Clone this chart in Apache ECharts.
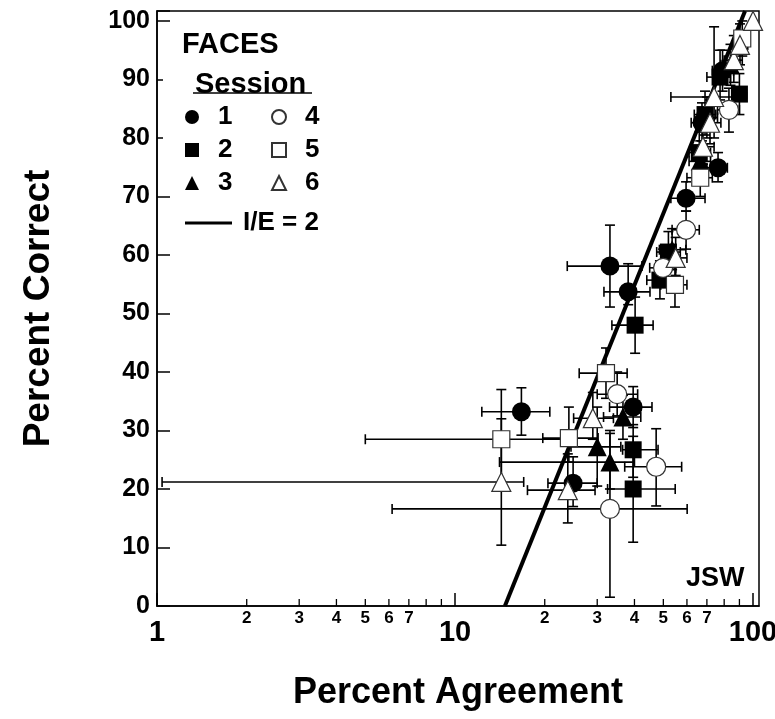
<!DOCTYPE html>
<html><head><meta charset="utf-8">
<script src="https://cdn.jsdelivr.net/npm/echarts@6/dist/echarts.min.js"></script>
<style>html,body{margin:0;padding:0;background:#fff}#c{width:775px;height:719px}</style>
</head><body><div id="c"></div>
<script>
// Each point: [x, y, xLow, xHigh, yLow, yHigh]
const session1 = [
  [16.7, 33.2, 12.3, 20.8, 29.2, 37.3],
  [33.1, 58.1, 23.8, 42.4, 51.1, 65.1],
  [38.1, 53.7, 31.6, 45.1, 51.5, 58.5],
  [39.6, 34.0, 33.0, 45.8, 30.5, 37.5],
  [24.9, 21.0, 20.5, 30.0, 17.0, 25.5],
  [59.6, 69.7, 53.0, 69.0, 67.5, 72.5],
  [76.3, 74.9, 70.0, 82.0, 72.5, 77.5],
  [67.4, 82.6, 62.0, 74.0, 79.5, 86.0],
  [79.0, 91.5, 73.0, 86.0, 88.0, 95.0]
];
const session2 = [
  [40.2, 48.0, 33.6, 46.2, 43.2, 52.8],
  [39.6, 26.7, 36.5, 48.0, 22.0, 31.0],
  [39.6, 20.0, 32.5, 54.8, 10.9, 29.0],
  [48.7, 55.7, 44.0, 54.0, 52.5, 59.0],
  [52.0, 60.5, 47.5, 57.0, 57.5, 64.0],
  [66.0, 77.5, 61.0, 72.0, 74.5, 81.0],
  [69.0, 84.0, 63.5, 75.0, 80.5, 88.0],
  [77.5, 90.4, 70.0, 84.0, 86.5, 95.0],
  [90.0, 87.5, 85.0, 95.0, 84.0, 91.0]
];
const session3 = [
  [30.0, 27.2, 24.5, 36.0, 20.5, 34.0],
  [33.1, 24.6, 14.1, 40.0, 20.0, 29.5],
  [36.6, 32.3, 31.5, 42.0, 28.5, 36.0],
  [53.5, 60.9, 48.5, 59.5, 57.5, 64.5],
  [66.5, 76.0, 61.0, 72.0, 73.0, 79.5],
  [70.0, 83.5, 65.0, 76.0, 80.0, 87.0],
  [84.0, 92.5, 78.0, 90.0, 89.0, 96.0]
];
const session4 = [
  [35.0, 36.2, 30.0, 41.0, 32.5, 40.0],
  [47.3, 23.8, 37.1, 57.6, 17.1, 30.3],
  [33.1, 16.6, 6.15, 60.1, 1.5, 30.0],
  [49.9, 57.8, 45.0, 55.0, 54.5, 61.0],
  [59.6, 64.3, 53.5, 66.0, 61.0, 67.5],
  [83.0, 84.8, 76.0, 90.0, 81.0, 88.5]
];
const session5 = [
  [14.3, 28.5, 5.0, 24.0, 20.0, 37.0],
  [24.1, 28.7, 19.7, 30.2, 24.6, 34.0],
  [32.1, 39.8, 26.1, 37.8, 35.5, 44.1],
  [54.7, 54.9, 49.0, 60.0, 51.1, 58.5],
  [66.5, 73.2, 60.0, 73.0, 70.0, 76.5],
  [92.0, 97.0, 87.0, 97.0, 94.0, 100.0]
];
const session6 = [
  [14.3, 21.2, 1.04, 17.0, 10.4, 32.0],
  [23.9, 19.8, 17.5, 29.5, 14.2, 26.0],
  [29.0, 32.1, 25.0, 34.0, 28.5, 36.5],
  [55.0, 59.5, 50.0, 60.0, 56.5, 63.0],
  [67.9, 78.5, 62.5, 74.0, 75.5, 82.0],
  [71.7, 82.6, 66.0, 78.0, 79.0, 86.5],
  [74.0, 87.0, 53.0, 95.0, 80.0, 99.0],
  [86.2, 93.3, 80.0, 92.0, 89.5, 97.5],
  [90.4, 95.9, 85.0, 96.0, 92.5, 99.5],
  [100.0, 100.0, 100.0, 100.0, 100.0, 100.0]
];
const lineIE = [[14.7, 0], [94.0, 101.7]];
const sessionNames = ['1', '2', '3', '4', '5', '6'];
const lineName = 'I/E = 2';
const xMinorTicks = [2, 3, 4, 5, 6, 7, 8, 9, 20, 30, 40, 50, 60, 70, 80, 90];
const xMinorLabels = [2, 3, 4, 5, 6, 7, 20, 30, 40, 50, 60, 70];
const xMinorLabelText = ['2', '3', '4', '5', '6', '7', '2', '3', '4', '5', '6', '7'];
const xMajorTicks = [1, 10, 100];

const FONT = 'Liberation Sans';
const sessions = [session1, session2, session3, session4, session5, session6];
const symbols = ['circle', 'rect', 'triangle', 'circle', 'rect', 'triangle'];
const sizes = [19, 17, 19, 19, 17, 19];

const chart = echarts.init(document.getElementById('c'), null, {renderer: 'canvas'});

function renderErr(params, api) {
  const x = api.value(0), y = api.value(1);
  const xl = api.value(2), xh = api.value(3), yl = api.value(4), yh = api.value(5);
  const pL = api.coord([xl, y]), pR = api.coord([xh, y]);
  const pB = api.coord([x, yl]), pT = api.coord([x, yh]);
  const c = 5;
  const st = {stroke: '#000', lineWidth: 1.6};
  const ch = [];
  if (xh > xl) {
    ch.push({type: 'line', shape: {x1: pL[0], y1: pL[1], x2: pR[0], y2: pR[1]}, style: st});
    ch.push({type: 'line', shape: {x1: pL[0], y1: pL[1] - c, x2: pL[0], y2: pL[1] + c}, style: st});
    ch.push({type: 'line', shape: {x1: pR[0], y1: pR[1] - c, x2: pR[0], y2: pR[1] + c}, style: st});
  }
  if (yh > yl) {
    ch.push({type: 'line', shape: {x1: pB[0], y1: pB[1], x2: pT[0], y2: pT[1]}, style: st});
    ch.push({type: 'line', shape: {x1: pB[0] - c, y1: pB[1], x2: pB[0] + c, y2: pB[1]}, style: st});
    ch.push({type: 'line', shape: {x1: pT[0] - c, y1: pT[1], x2: pT[0] + c, y2: pT[1]}, style: st});
  }
  return {type: 'group', children: ch};
}

function renderMinor(params, api) {
  const v = api.value(0);
  const p = api.coord([v, 0]);
  const ch = [{type: 'line', shape: {x1: p[0], y1: p[1], x2: p[0], y2: p[1] - 7}, style: {stroke: '#000', lineWidth: 1.3}}];
  const idx = xMinorLabels.indexOf(v);
  if (idx >= 0) {
    ch.push({type: 'text', style: {text: xMinorLabelText[idx], x: p[0], y: p[1] + 4, align: 'center', verticalAlign: 'top',
      font: 'bold 17px "' + FONT + '"', fill: '#000'}});
  }
  return {type: 'group', children: ch};
}

const allErr = [].concat(...sessions);

const series = [];
series.push({
  type: 'custom', name: 'err', renderItem: renderErr, data: allErr, z: 2, silent: true,
  encode: {x: 0, y: 1}, clip: false
});
series.push({
  type: 'custom', name: 'minor', renderItem: renderMinor, data: xMinorTicks.map(v => [v, 0]), z: 6, silent: true,
  encode: {x: 0, y: 1}, clip: false
});
series.push({
  type: 'line', name: lineName, data: lineIE, showSymbol: false, symbol: 'none', z: 3,
  color: '#000', lineStyle: {color: '#000', width: 4}, silent: true
});
sessions.forEach((s, i) => {
  const open = i >= 3;
  series.push({
    type: 'scatter', name: sessionNames[i], data: s.map(p => [p[0], p[1]]),
    symbol: symbols[i], symbolSize: sizes[i], z: 4 + i * 0.1,
    itemStyle: open ? {color: '#fff', borderColor: '#333', borderWidth: 1.2, opacity: 1}
                    : {color: '#000', borderColor: '#000', borderWidth: 0, opacity: 1},
    silent: true
  });
});

const legendText = {fontSize: 26, fontWeight: 'bold', fontFamily: FONT, color: '#000', lineHeight: 26, padding: [0, 0, 0, 14]};

chart.setOption({
  animation: false,
  backgroundColor: '#fff',
  title: [
    {text: 'FACES', left: 177, top: 25, textStyle: {fontSize: 29, fontWeight: 'bold', fontFamily: FONT, color: '#000'}},
    {text: 'Session', left: 190, top: 65, textStyle: {fontSize: 29, fontWeight: 'bold', fontFamily: FONT, color: '#000'}},
    {text: 'JSW', left: 681, top: 560, textStyle: {fontSize: 27, fontWeight: 'bold', fontFamily: FONT, color: '#000'}}
  ],
  graphic: [
    {type: 'rect', shape: {x: 163, y: 30, width: 180, height: 158}, style: {fill: '#fff'}, z: 1, silent: true},
    {type: 'line', shape: {x1: 193, y1: 93, x2: 312, y2: 93}, style: {stroke: '#000', lineWidth: 1.5}, z: 10}
  ],
  legend: [
    {data: ['1', '2', '3'], left: 180, top: 99, orient: 'vertical', itemWidth: 14, itemHeight: 14, itemGap: 7,
      selectedMode: false, textStyle: legendText},
    {data: ['4', '5', '6'], left: 266, top: 99, orient: 'vertical', itemWidth: 14, itemHeight: 14, itemGap: 7,
      selectedMode: false, textStyle: legendText},
    {data: [{name: lineName, icon: 'rect'}], left: 180, top: 205, itemWidth: 47, itemHeight: 3,
      selectedMode: false, textStyle: Object.assign({}, legendText, {padding: [0, 0, 0, 6]})}
  ],
  grid: {left: 157, top: 11, width: 602, height: 595, show: true, borderColor: '#000', borderWidth: 1.5,
    backgroundColor: 'transparent', outerBoundsMode: 'none', containLabel: false},
  xAxis: {
    type: 'log', logBase: 10, min: 1, max: 104.7,
    name: 'Percent Agreement', nameLocation: 'middle', nameGap: 69,
    nameTextStyle: {fontSize: 36, fontWeight: 'bold', fontFamily: FONT, color: '#000'},
    axisLine: {lineStyle: {color: '#000', width: 1.5}},
    axisTick: {inside: true, length: 13, lineStyle: {color: '#000', width: 1.5},
      customValues: xMajorTicks},
    axisLabel: {margin: 12, fontSize: 29, fontWeight: 'bold', fontFamily: FONT, color: '#000',
      customValues: xMajorTicks,
      formatter: v => (xMajorTicks.some(t => Math.abs(t - v) < 1e-6) ? String(Math.round(v)) : '')},
    splitLine: {show: false}, minorTick: {show: false}
  },
  yAxis: {
    type: 'value', min: 0, max: 101.7, interval: 10,
    name: 'Percent Correct', nameLocation: 'middle', nameGap: 100, nameRotate: 90,
    nameTextStyle: {fontSize: 37, fontWeight: 'bold', fontFamily: FONT, color: '#000'},
    axisLine: {lineStyle: {color: '#000', width: 1.5}},
    axisTick: {inside: true, length: 13, lineStyle: {color: '#000', width: 1.5}},
    axisLabel: {margin: 7, fontSize: 25, fontWeight: 'bold', fontFamily: FONT, color: '#000',
      formatter: v => (Math.abs(v % 10) < 1e-6 ? String(v) : '')},
    splitLine: {show: false}
  },
  series: series
});
</script></body></html>
